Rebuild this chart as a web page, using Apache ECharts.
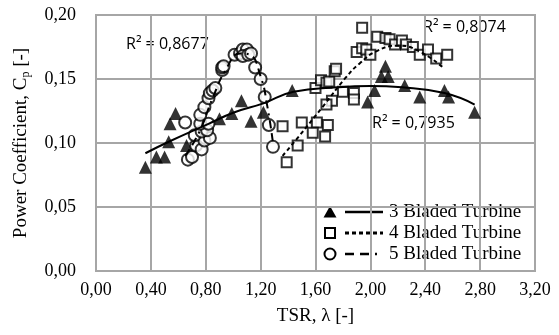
<!DOCTYPE html>
<html><head><meta charset="utf-8">
<script src="https://cdn.jsdelivr.net/npm/echarts@6/dist/echarts.min.js"></script>
<style>html,body{margin:0;padding:0;background:#fff}#c{width:559px;height:335px}</style>
</head><body><div id="c"></div>
<script>
// 3 Bladed Turbine
const tsr3 = [0.36,0.44,0.50,0.53,0.54,0.58,0.66,0.90,0.99,1.06,1.13,1.22,1.43,1.98,2.03,2.08,2.13,2.11,2.25,2.36,2.54,2.57,2.76];
const cp3  = [0.081,0.089,0.089,0.101,0.115,0.123,0.098,0.119,0.123,0.133,0.117,0.124,0.141,0.132,0.141,0.152,0.152,0.160,0.145,0.136,0.141,0.136,0.124];
// 4 Bladed Turbine
const tsr4 = [1.39,1.47,1.36,1.50,1.61,1.69,1.58,1.67,1.60,1.64,1.68,1.70,1.74,1.75,1.80,1.88,1.88,1.72,1.68,1.90,1.94,1.97,2.00,1.94,2.05,2.11,2.14,2.18,2.23,2.26,2.31,2.36,2.42,2.48,2.56];
const cp4  = [0.085,0.098,0.113,0.116,0.116,0.114,0.108,0.105,0.143,0.149,0.147,0.148,0.156,0.158,0.140,0.139,0.134,0.133,0.130,0.171,0.174,0.173,0.169,0.190,0.183,0.182,0.181,0.177,0.180,0.177,0.175,0.169,0.173,0.166,0.169];
// 5 Bladed Turbine
const tsr5 = [0.65,0.67,0.70,0.73,0.77,0.79,0.83,0.72,0.77,0.81,0.76,0.82,0.76,0.79,0.82,0.83,0.85,0.87,0.92,0.92,0.93,1.01,1.05,1.07,1.10,1.07,1.11,1.13,1.16,1.20,1.23,1.26,1.29];
const cp5  = [0.116,0.087,0.089,0.098,0.095,0.102,0.104,0.106,0.109,0.110,0.115,0.115,0.122,0.128,0.135,0.139,0.141,0.143,0.157,0.159,0.160,0.169,0.170,0.173,0.173,0.168,0.169,0.170,0.159,0.150,0.136,0.114,0.097];
// Trend lines
const trend3X = [0.36,0.53,0.82,1.01,1.22,1.44,1.76,2.00,2.23,2.54,2.76];
const trend3Y = [0.092,0.101,0.115,0.124,0.131,0.140,0.1435,0.1445,0.1435,0.139,0.130];
const trend4X = [1.36,1.47,1.65,1.82,1.92,2.05,2.20,2.35,2.54];
const trend4Y = [0.090,0.104,0.128,0.151,0.162,0.172,0.176,0.172,0.158];
const trend5X = [0.65,0.75,0.85,0.95,1.05,1.12,1.20,1.25,1.29];
const trend5Y = [0.090,0.108,0.135,0.158,0.170,0.169,0.152,0.128,0.100];
// Labels
const seriesNames = ['3 Bladed Turbine','4 Bladed Turbine','5 Bladed Turbine'];
const r2Labels = ['R² = 0,7935','R² = 0,8074','R² = 0,8677'];

const zip = (a,b) => a.map((x,i) => [x,b[i]]);
const fmt = v => v.toFixed(2).replace('.',',');
const serif = '"Liberation Serif","Times New Roman",serif';
const sans = '"Open Sans","Liberation Sans",sans-serif';
const gridColor = '#a6a6a6';

const chart = echarts.init(document.getElementById('c'), null, {renderer:'canvas'});
const legendRows = [212, 233, 254];
const mkX = 330, lineX1 = 345, lineX2 = 383, textX = 389;

const legendGraphics = [];
legendGraphics.push({type:'polygon', shape:{points:[[mkX,legendRows[0]-6],[mkX-6.5,legendRows[0]+5.5],[mkX+6.5,legendRows[0]+5.5]]}, style:{fill:'#000'}});
legendGraphics.push({type:'line', shape:{x1:lineX1,y1:legendRows[0],x2:lineX2,y2:legendRows[0]}, style:{stroke:'#000',lineWidth:2.5}});
legendGraphics.push({type:'rect', shape:{x:mkX-5,y:legendRows[1]-5,width:10,height:10}, style:{fill:'#fff',stroke:'#000',lineWidth:2}});
legendGraphics.push({type:'line', shape:{x1:lineX1,y1:legendRows[1],x2:lineX2,y2:legendRows[1]}, style:{stroke:'#000',lineWidth:3,lineDash:[4,3]}});
legendGraphics.push({type:'circle', shape:{cx:mkX,cy:legendRows[2],r:5.5}, style:{fill:'#fff',stroke:'#000',lineWidth:2}});
legendGraphics.push({type:'line', shape:{x1:lineX1,y1:legendRows[2],x2:lineX2,y2:legendRows[2]}, style:{stroke:'#000',lineWidth:2.5,lineDash:[9,6,9,6,2,6]}});
seriesNames.forEach((n,i) => legendGraphics.push({type:'text', left:textX, top:legendRows[i]-9, style:{text:n, font:'19px '+serif, fill:'#000'}}));

const r2Graphics = [
  {type:'text', left:372, top:115, style:{text:r2Labels[0], font:'16px '+sans, fill:'#000'}},
  {type:'text', left:423, top:19, style:{text:r2Labels[1], font:'16px '+sans, fill:'#000'}},
  {type:'text', left:126, top:36, style:{text:r2Labels[2], font:'16px '+sans, fill:'#000'}}
];

const option = {
  animation:false,
  grid:{left:96,right:24,top:15,bottom:64,show:true,borderColor:gridColor,borderWidth:2,backgroundColor:'transparent'},
  xAxis:{type:'value',min:0,max:3.2,interval:0.4,
    axisLine:{lineStyle:{color:gridColor,width:2}},axisTick:{show:false},
    splitLine:{lineStyle:{color:gridColor,width:2}},
    axisLabel:{formatter:fmt,color:'#000',fontFamily:serif,fontSize:18,margin:10},
    name:'TSR, λ [-]',nameLocation:'middle',nameGap:36,
    nameTextStyle:{color:'#000',fontFamily:serif,fontSize:19}},
  yAxis:{type:'value',min:0,max:0.2,interval:0.05,
    axisLine:{show:true,lineStyle:{color:gridColor,width:2}},axisTick:{show:false},
    splitLine:{lineStyle:{color:gridColor,width:2}},
    axisLabel:{formatter:fmt,color:'#000',fontFamily:serif,fontSize:18,margin:20},
    name:'{a|Power Coefficient, C}{s|p}{a| [-]}',nameLocation:'middle',nameGap:64,
    nameTextStyle:{rich:{a:{color:'#000',fontFamily:serif,fontSize:19},s:{color:'#000',fontFamily:serif,fontSize:12,padding:[10,0,0,0]}}}},
  series:[
    {name:seriesNames[0],type:'scatter',data:zip(tsr3,cp3),symbol:'triangle',symbolSize:13,itemStyle:{color:'#000'},z:3},
    {name:seriesNames[1],type:'scatter',data:zip(tsr4,cp4),symbol:'rect',symbolSize:10,itemStyle:{color:'#fff',borderColor:'#000',borderWidth:2},z:3},
    {name:seriesNames[2],type:'scatter',data:zip(tsr5,cp5),symbol:'circle',symbolSize:12,itemStyle:{color:'#fff',borderColor:'#000',borderWidth:2},z:3},
    {type:'line',data:zip(trend3X,trend3Y),smooth:true,showSymbol:false,lineStyle:{color:'#000',width:2},z:4},
    {type:'line',data:zip(trend4X,trend4Y),smooth:true,showSymbol:false,lineStyle:{color:'#000',width:2,type:[4,3]},z:4},
    {type:'line',data:zip(trend5X,trend5Y),smooth:true,showSymbol:false,lineStyle:{color:'#000',width:2,type:[8,5,8,5,2,5]},z:4}
  ],
  graphic:[...r2Graphics, ...legendGraphics]
};
chart.setOption(option);
</script></body></html>
